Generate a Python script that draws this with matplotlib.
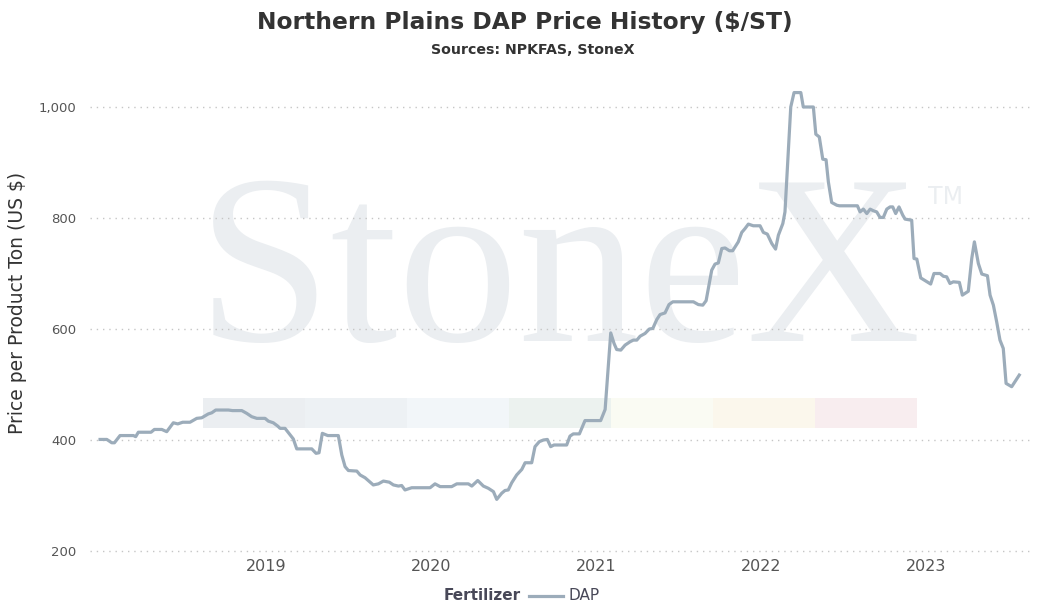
import matplotlib
matplotlib.use("Agg")
import matplotlib.pyplot as plt
from matplotlib.lines import Line2D
from matplotlib.patches import Rectangle

# decimal year, DAP price ($/short ton)
dates = [
    2017.994, 2018.035, 2018.065, 2018.081, 2018.115, 2018.196, 2018.210, 2018.226,
    2018.303, 2018.323, 2018.368, 2018.398, 2018.438, 2018.465, 2018.495, 2018.539,
    2018.580, 2018.610, 2018.650, 2018.671, 2018.695, 2018.772, 2018.796, 2018.853,
    2018.883, 2018.913, 2018.944, 2018.994, 2019.014, 2019.044, 2019.071, 2019.085,
    2019.115, 2019.139, 2019.165, 2019.186, 2019.277, 2019.303, 2019.321, 2019.341,
    2019.374, 2019.438, 2019.459, 2019.479, 2019.499, 2019.550, 2019.570, 2019.600,
    2019.650, 2019.681, 2019.711, 2019.747, 2019.772, 2019.802, 2019.822, 2019.842,
    2019.883, 2019.994, 2020.024, 2020.055, 2020.125, 2020.156, 2020.226, 2020.247,
    2020.283, 2020.317, 2020.347, 2020.378, 2020.398, 2020.428, 2020.448, 2020.468,
    2020.489, 2020.519, 2020.550, 2020.570, 2020.610, 2020.630, 2020.656, 2020.681,
    2020.705, 2020.725, 2020.745, 2020.822, 2020.842, 2020.862, 2020.899, 2020.933,
    2021.028, 2021.055, 2021.089, 2021.109, 2021.125, 2021.150, 2021.176, 2021.206,
    2021.226, 2021.247, 2021.267, 2021.297, 2021.323, 2021.344, 2021.368, 2021.388,
    2021.418, 2021.442, 2021.465, 2021.590, 2021.620, 2021.647, 2021.667, 2021.701,
    2021.721, 2021.741, 2021.762, 2021.782, 2021.808, 2021.828, 2021.862, 2021.883,
    2021.903, 2021.923, 2021.953, 2021.994, 2022.014, 2022.038, 2022.065, 2022.088,
    2022.105, 2022.132, 2022.145, 2022.165, 2022.180, 2022.200, 2022.241, 2022.256,
    2022.317, 2022.332, 2022.353, 2022.374, 2022.394, 2022.408, 2022.428, 2022.459,
    2022.475, 2022.584, 2022.600, 2022.620, 2022.641, 2022.661, 2022.681, 2022.701,
    2022.721, 2022.741, 2022.762, 2022.782, 2022.798, 2022.816, 2022.836, 2022.859,
    2022.873, 2022.913, 2022.927, 2022.944, 2022.968, 2023.028, 2023.048, 2023.085,
    2023.105, 2023.125, 2023.145, 2023.165, 2023.202, 2023.220, 2023.256, 2023.277,
    2023.293, 2023.317, 2023.338, 2023.372, 2023.388, 2023.408, 2023.428, 2023.448,
    2023.468, 2023.485, 2023.519, 2023.539, 2023.565,
]
dap = [
    401, 401, 395, 395, 408, 408, 406, 414,
    414, 419, 419, 415, 431, 429, 432, 432,
    439, 440, 447, 449, 454, 454, 453, 453,
    448, 442, 439, 439, 434, 431, 425, 421,
    421, 412, 402, 384, 384, 376, 377, 412,
    408, 408, 373, 352, 345, 344, 337, 332,
    319, 321, 326, 324, 319, 317, 318, 310,
    314, 314, 321, 316, 316, 321, 321, 317,
    327, 317, 313, 307, 293, 304, 309, 310,
    323, 337, 347, 359, 359, 388, 397, 400,
    401, 388, 391, 391, 407, 411, 411, 435,
    435, 455, 593, 574, 563, 562, 571, 577,
    580, 580, 587, 592, 600, 601, 617, 626,
    629, 644, 649, 649, 644, 643, 651, 706,
    717, 719, 745, 746, 741, 741, 757, 774,
    781, 789, 786, 786, 774, 771, 754, 744,
    769, 790, 811, 919, 1000, 1026, 1026, 1000,
    1000, 951, 946, 906, 905, 865, 828, 823,
    822, 822, 811, 816, 808, 816, 813, 811,
    801, 801, 816, 820, 820, 808, 820, 805,
    798, 796, 727, 726, 692, 681, 700, 700,
    695, 694, 682, 685, 684, 661, 668, 727,
    757, 718, 699, 696, 661, 643, 613, 580,
    565, 502, 496, 505, 517,
]

year_ticks = [2019, 2020, 2021, 2022, 2023]
price_ticks = [200, 400, 600, 800, 1000]

title = "Northern Plains DAP Price History ($/ST)"
subtitle = "Sources: NPKFAS, StoneX"
y_label = "Price per Product Ton (US $)"
legend_title = "Fertilizer"
series_name = "DAP"

line_color = "#9cacba"
text_color = "#333333"
tick_color = "#555555"
mark_color = "#ebeef1"

W, H = 1040, 606


def fx(px):
    return px / W


def fy(py):
    return 1 - py / H


fig = plt.figure(figsize=(10.4, 6.06), dpi=100)
# plot area: 90..1030 px wide, 85..556 px tall
ax = fig.add_axes([fx(90), fy(556), fx(940), 471 / H])
ax.set_facecolor("none")

# StoneX watermark with its colour bar
bar_colors = ["#ebeef1", "#edf1f4", "#f2f6f9", "#ecf2ef", "#fafbf3", "#fbf7ec", "#f8edef"]
bar_w = 102 / W
for i, c in enumerate(bar_colors):
    ax.add_patch(Rectangle((fx(203) + i * bar_w, fy(428)), bar_w, 30 / H,
                           transform=fig.transFigure, facecolor=c, edgecolor="none",
                           zorder=0.1, clip_on=False))
ax.text(fx(559), fy(341), "StoneX", transform=fig.transFigure,
        ha="center", va="baseline", fontsize=174, family="Liberation Serif",
        color=mark_color, zorder=0.2)
ax.text(fx(946), fy(197), "TM", transform=fig.transFigure,
        ha="center", va="center", fontsize=17, family="DejaVu Sans",
        color=mark_color, zorder=0.2)

ax.plot(dates, dap, color=line_color, linewidth=2.3, solid_joinstyle="round", zorder=3)

ax.set_xlim(2017.933, 2023.630)
ax.set_ylim(200 - 5 / 0.555, 200 + 466 / 0.555)
ax.set_xticks(year_ticks)
ax.set_xticklabels([str(y) for y in year_ticks], fontsize=11.5, color=tick_color)
ax.set_yticks(price_ticks)
ax.set_yticklabels([f"{p:,}" for p in price_ticks], fontsize=9.5, color=tick_color)
ax.tick_params(axis="both", length=0)
ax.tick_params(axis="x", pad=2)
ax.tick_params(axis="y", pad=10)
for side in ax.spines.values():
    side.set_visible(False)
ax.grid(axis="y", linestyle=(0, (1, 3.5)), color="#c6c6c6", linewidth=1.0, zorder=1)

fig.text(fx(18), fy(303), y_label, rotation=90, ha="center", va="center",
         fontsize=13.5, color=text_color)
fig.text(fx(525), fy(23), title, ha="center", va="center",
         fontsize=16.8, fontweight="bold", color=text_color)
fig.text(fx(533), fy(50), subtitle, ha="center", va="center",
         fontsize=10.2, fontweight="bold", color=text_color)

# legend row at the bottom
fig.text(fx(521), fy(596), legend_title, ha="right", va="center",
         fontsize=11, fontweight="bold", color="#484858")
fig.add_artist(Line2D([fx(529), fx(563)], [fy(596), fy(596)], color=line_color,
                      linewidth=2.3, transform=fig.transFigure))
fig.text(fx(568), fy(596), series_name, ha="left", va="center",
         fontsize=11, color="#484858")

fig.savefig("out.png", dpi=100)
